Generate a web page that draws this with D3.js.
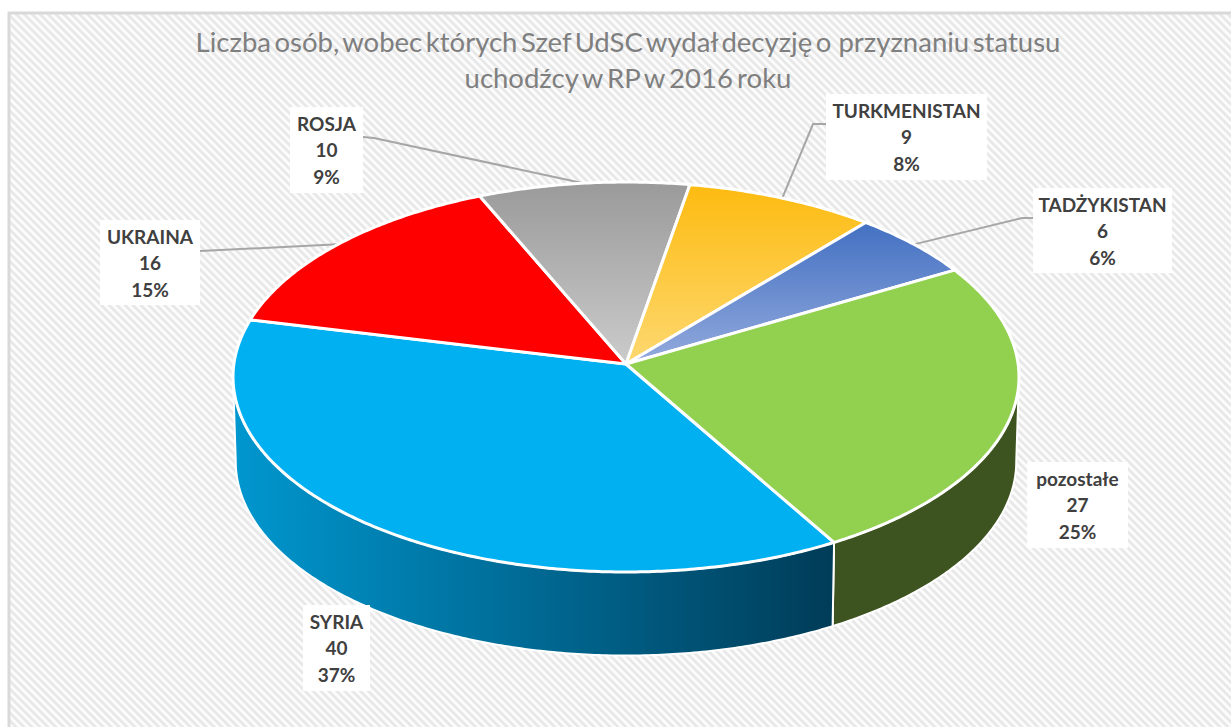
<!DOCTYPE html>
<html lang="en">
<head>
  <meta charset="UTF-8">
  <title>Liczba osob</title>
  <script src="https://d3js.org/d3.v7.min.js"></script>
  <style>
    body { margin: 0; background: #fff; }
    svg { display: block; }
    text { font-family: Lato, "Open Sans", sans-serif; }
  </style>
</head>

<body>

  <div id="chart"></div>

  <script type="text/javascript">

  // data
  var categories = ["SYRIA", "UKRAINA", "ROSJA", "TURKMENISTAN", "TADŻYKISTAN", "pozostałe"];
  var values = [40, 16, 10, 9, 6, 27];
  var titleLines = ["Liczba osób, wobec których Szef UdSC wydał decyzję o  przyznaniu statusu",
                    "uchodźcy w RP w 2016 roku"];

  var w = 1231;
  var h = 727;

  // label boxes [left, top, right, bottom], same order as categories
  var labelBoxes = [
    [303, 605, 370, 691],
    [100, 220, 200, 305],
    [290, 107, 363, 193],
    [826, 94, 987, 180],
    [1033, 188, 1172, 273],
    [1027, 462, 1128, 548]
  ];
  // where the leader leaves the label, null if there is no leader
  var leaderStarts = [
    null,
    [[200, 251]],
    [[363, 137], [374, 138]],
    [[826, 124], [813, 124]],
    [[1033, 218], [1022, 218]],
    null
  ];

  // the pie is a tilted disc, so angles go through a small perspective projection
  var apex = {x: 626, y: 364};
  var rx = 392.1, ry = 194.1, persp = -0.0667;
  var depth = 85, bottomScale = 0.993;

  function project(a, r, bottom) {
    var sx = Math.sin(a) * r;
    var sy = -Math.cos(a) * r;
    var q = 1 + persp * sy;
    var s = bottom ? bottomScale : 1;
    return [apex.x + s * rx * sx / q,
            apex.y + s * ry * sy / q + (bottom ? depth : 0)];
  }

  function rim(a0, a1, bottom) {
    var n = Math.ceil(Math.abs(a1 - a0) / 0.01);
    return d3.range(n + 1).map(function(i) {
      return project(a0 + (a1 - a0) * i / n, 1, bottom);
    });
  }

  var rad = Math.PI / 180;
  var pie = d3.pie().sort(null)
    .startAngle(150 * rad)
    .endAngle(510 * rad);
  var slices = pie(values);
  var total = d3.sum(values);
  var pct = d3.format(".0%");
  var line = d3.line();

  var svg = d3.select('#chart')
    .append('svg')
    .attr('width', w)
    .attr('height', h);

  var defs = svg.append("defs");

  var hatch = defs.append("pattern")
    .attr("id", "hatch")
    .attr("patternUnits", "userSpaceOnUse")
    .attr("width", 5.6)
    .attr("height", 5.6)
    .attr("patternTransform", "rotate(-45)");
  hatch.append("rect").attr("width", 5.6).attr("height", 5.6).attr("fill", "#fcfcfc");
  hatch.append("rect").attr("width", 2.8).attr("height", 5.6).attr("fill", "#e8e8e8");

  function gradient(id, c0, c1, horizontal) {
    var g = defs.append("linearGradient")
      .attr("id", id)
      .attr("x1", 0).attr("y1", 0)
      .attr("x2", horizontal ? 1 : 0)
      .attr("y2", horizontal ? 0 : 1);
    g.append("stop").attr("offset", 0).attr("stop-color", c0);
    g.append("stop").attr("offset", 1).attr("stop-color", c1);
  }
  gradient("gGray", "#9a9a9a", "#cbcbcb");
  gradient("gGold", "#fdbb10", "#fdd871");
  gradient("gBlue", "#4370c2", "#93aadd");
  gradient("gSide", "#0097cf", "#003c58", true);

  var topFills = ["#00b0f0", "#ff0000", "url(#gGray)", "url(#gGold)", "url(#gBlue)", "#92d050"];

  // background
  svg.append("rect")
    .attr("x", 9).attr("y", 13)
    .attr("width", w).attr("height", h)
    .attr("fill", "url(#hatch)")
    .attr("stroke", "#d9d9d9")
    .attr("stroke-width", 3);

  // title, the original has tight word gaps
  svg.selectAll("text.title")
    .data(titleLines)
    .enter()
    .append("text")
    .attr("class", "title")
    .attr("x", 628)
    .attr("y", (d, i) => 52 + i * 36)
    .attr("text-anchor", "middle")
    .attr("fill", "#7f7f7f")
    .attr("font-size", 27.5)
    .attr("word-spacing", (d, i) => i ? -2.8 : -3.5)
    .style("white-space", "pre")
    .text(d => d);

  // leaders
  slices.forEach(function(d, i) {
    if (!leaderStarts[i]) return;
    var end = project((d.startAngle + d.endAngle) / 2, 1);
    svg.append("path")
      .attr("d", line(leaderStarts[i].concat([end])))
      .attr("fill", "none")
      .attr("stroke", "#a6a6a6")
      .attr("stroke-width", 2);
  });

  // outer wall, only the visible part (tangent points come from the perspective term)
  var tangent = Math.acos(persp);
  var wallFrom = tangent, wallTo = 2 * Math.PI - tangent;
  var wallFills = {0: "url(#gSide)", 5: "#3d5420"};
  var wallRanges = {
    0: [slices[0].startAngle, wallTo],
    5: [wallFrom, slices[0].startAngle]
  };
  [5, 0].forEach(function(i) {
    var a = wallRanges[i];
    var pts = rim(a[0], a[1], false).concat(rim(a[1], a[0], true));
    svg.append("path")
      .attr("d", line(pts) + "Z")
      .attr("fill", wallFills[i])
      .attr("stroke", "#fff")
      .attr("stroke-width", 2)
      .attr("stroke-linejoin", "round");
  });

  // top face
  svg.selectAll("path.slice")
    .data(slices)
    .enter()
    .append("path")
    .attr("class", "slice")
    .attr("fill", (d, i) => topFills[i])
    .attr("stroke", "#fff")
    .attr("stroke-width", 3)
    .attr("stroke-linejoin", "round")
    .attr("d", d => line([[apex.x, apex.y]].concat(rim(d.startAngle, d.endAngle))) + "Z");

  // labels
  var labels = svg.selectAll("g.label")
    .data(slices)
    .enter()
    .append("g")
    .attr("class", "label");

  labels.append("rect")
    .attr("x", (d, i) => labelBoxes[i][0])
    .attr("y", (d, i) => labelBoxes[i][1])
    .attr("width", (d, i) => labelBoxes[i][2] - labelBoxes[i][0])
    .attr("height", (d, i) => labelBoxes[i][3] - labelBoxes[i][1])
    .attr("fill", "#fff");

  labels.each(function(d, i) {
    var box = labelBoxes[i];
    var rows = [categories[i], d.value, pct(d.value / total)];
    d3.select(this).selectAll("text")
      .data(rows)
      .enter()
      .append("text")
      .attr("x", (box[0] + box[2]) / 2)
      .attr("y", (r, j) => box[1] + 23.5 + j * 26.5)
      .attr("text-anchor", "middle")
      .attr("fill", "#404040")
      .attr("font-weight", 700)
      .attr("font-size", 19)
      .text(r => r);
  });

  </script>
</body>
</html>
